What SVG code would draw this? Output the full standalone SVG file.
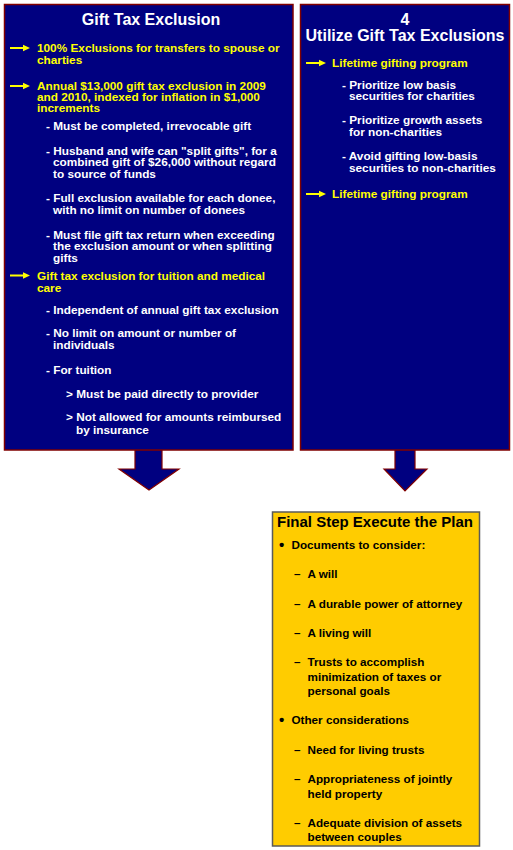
<svg xmlns="http://www.w3.org/2000/svg" width="513" height="850" viewBox="0 0 513 850">
<style>
.panel{fill:#000080;stroke:#800000;stroke-width:1.5}
.conn{fill:#000080;stroke:#800000;stroke-width:1.2}
.final{fill:#FFCC00;stroke:#5a5a5a;stroke-width:1.5}
text{font-family:"Liberation Sans",Arial,sans-serif;font-weight:bold}
.title{font-size:16px;fill:#fff;text-anchor:middle}
.y{font-size:11.8px;fill:#FFFF00}
.w{font-size:11.8px;fill:#fff}
.ft{font-size:15px;fill:#000}
.b{font-size:11.7px;fill:#000}
.dot{font-size:15px;fill:#000}
.ar{fill:#FFFF00}
</style>
<defs>
<g id="yarrow"><rect x="0" y="-1" width="15" height="2" class="ar"/><path d="M13,-3.2 L20,0 L13,3.2 Z" class="ar"/></g>
</defs>
<g id="connectors">
<path class="conn" d="M135,448 V469 H119 L149,490 L179,469 H162 V448"/>
<path class="conn" d="M395,448 V469 H384 L405,491 L427,469 H415 V448"/>
</g>
<g id="gift-tax-exclusion">
<rect class="panel" x="4.5" y="4.5" width="288.5" height="445.5"/>
<text class="title" x="151" y="25">Gift Tax Exclusion</text>
<use href="#yarrow" x="10" y="48"/>
<text class="y" x="37" y="52">100% Exclusions for transfers to spouse or</text>
<text class="y" x="37" y="63.5">charties</text>
<use href="#yarrow" x="10" y="86"/>
<text class="y" x="37" y="90">Annual $13,000 gift tax exclusion in 2009</text>
<text class="y" x="37" y="101">and 2010, indexed for inflation in $1,000</text>
<text class="y" x="37" y="112">increments</text>
<text class="w" x="46" y="130">- Must be completed, irrevocable gift</text>
<text class="w" x="46" y="154.5">- Husband and wife can "split gifts", for a</text>
<text class="w" x="53" y="166">combined gift of $26,000 without regard</text>
<text class="w" x="53" y="177.5">to source of funds</text>
<text class="w" x="46" y="202">- Full exclusion available for each donee,</text>
<text class="w" x="53" y="213.5">with no limit on number of donees</text>
<text class="w" x="46" y="238.5">- Must file gift tax return when exceeding</text>
<text class="w" x="53" y="250">the exclusion amount or when splitting</text>
<text class="w" x="53" y="261.5">gifts</text>
<use href="#yarrow" x="10" y="275.5"/>
<text class="y" x="37" y="279.5">Gift tax exclusion for tuition and medical</text>
<text class="y" x="37" y="291.5">care</text>
<text class="w" x="46" y="313.5">- Independent of annual gift tax exclusion</text>
<text class="w" x="46" y="337">- No limit on amount or number of</text>
<text class="w" x="53" y="348.5">individuals</text>
<text class="w" x="46" y="373.5">- For tuition</text>
<text class="w" x="66" y="397.5">&gt; Must be paid directly to provider</text>
<text class="w" x="66" y="421">&gt; Not allowed for amounts reimbursed</text>
<text class="w" x="76" y="433.5">by insurance</text>
</g>
<g id="utilize-gift-tax-exclusions">
<rect class="panel" x="300.5" y="4.5" width="209" height="445.5"/>
<text class="title" x="405" y="25">4</text>
<text class="title" x="405" y="40.5">Utilize Gift Tax Exclusions</text>
<use href="#yarrow" x="306" y="63"/>
<text class="y" x="332" y="67">Lifetime gifting program</text>
<text class="w" x="342" y="88.5">- Prioritize low basis</text>
<text class="w" x="349" y="100">securities for charities</text>
<text class="w" x="342" y="124">- Prioritize growth assets</text>
<text class="w" x="349" y="136">for non-charities</text>
<text class="w" x="342" y="160">- Avoid gifting low-basis</text>
<text class="w" x="349" y="172">securities to non-charities</text>
<use href="#yarrow" x="306" y="194"/>
<text class="y" x="332" y="198">Lifetime gifting program</text>
</g>
<g id="final-step">
<rect class="final" x="272.5" y="512" width="207" height="334"/>
<text class="ft" x="277" y="527">Final Step Execute the Plan</text>
<text class="dot" x="279" y="549.5">•</text>
<text class="b" x="291.5" y="548.5">Documents to consider:</text>
<text class="b" x="294" y="578">–</text>
<text class="b" x="307.5" y="578">A will</text>
<text class="b" x="294" y="607.5">–</text>
<text class="b" x="307.5" y="607.5">A durable power of attorney</text>
<text class="b" x="294" y="637">–</text>
<text class="b" x="307.5" y="637">A living will</text>
<text class="b" x="294" y="666">–</text>
<text class="b" x="307.5" y="666">Trusts to accomplish</text>
<text class="b" x="307.5" y="680.5">minimization of taxes or</text>
<text class="b" x="307.5" y="695">personal goals</text>
<text class="dot" x="279" y="725">•</text>
<text class="b" x="291.5" y="724">Other considerations</text>
<text class="b" x="294" y="753.5">–</text>
<text class="b" x="307.5" y="753.5">Need for living trusts</text>
<text class="b" x="294" y="783">–</text>
<text class="b" x="307.5" y="783">Appropriateness of jointly</text>
<text class="b" x="307.5" y="797.5">held property</text>
<text class="b" x="294" y="827">–</text>
<text class="b" x="307.5" y="827">Adequate division of assets</text>
<text class="b" x="307.5" y="841">between couples</text>
</g>
</svg>
